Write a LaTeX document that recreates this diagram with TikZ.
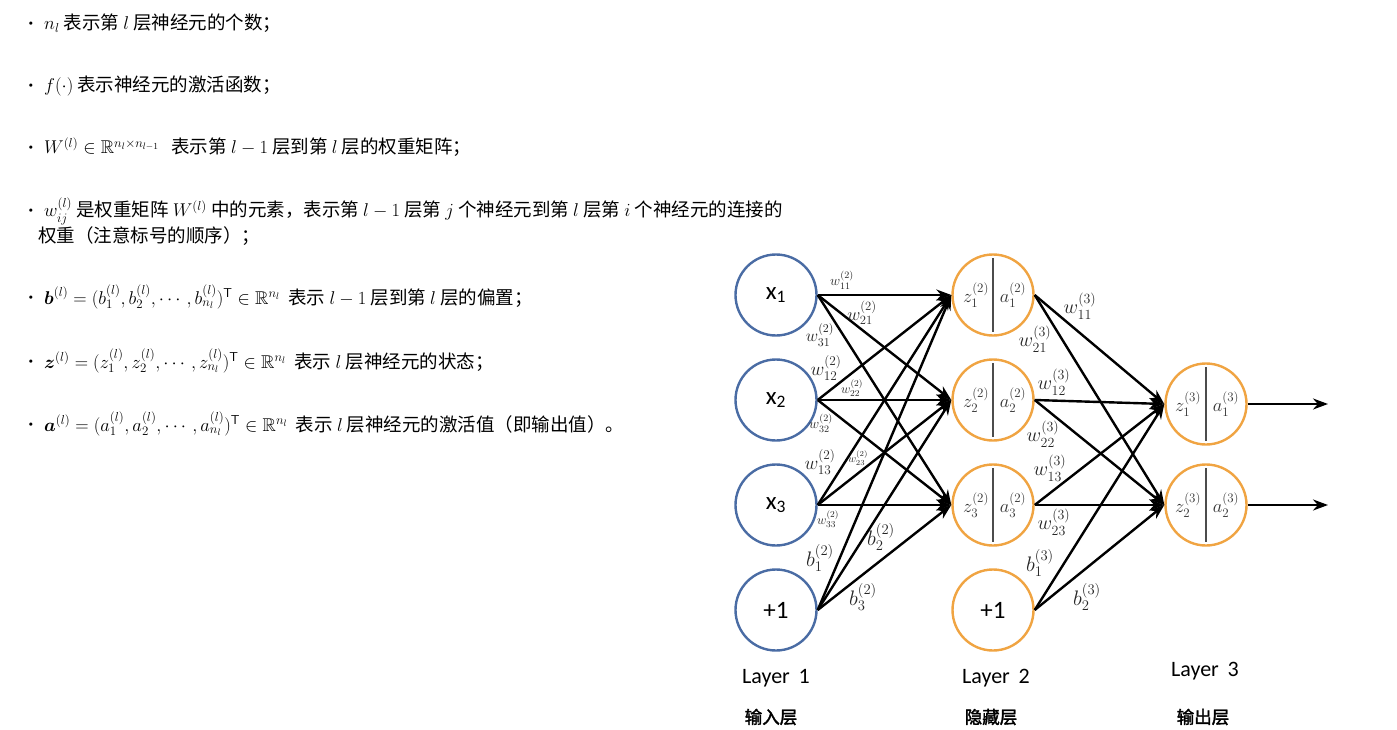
\RequirePackage{fix-cm}
\documentclass[tikz,border=0pt]{standalone}
\usepackage{amsmath}
\usepackage{amssymb}
\usepackage{fontspec}
\usetikzlibrary{arrows.meta,positioning}
\newfontfamily\cjk{Noto Sans CJK SC}
\newfontfamily\cjkb[FakeBold=2]{Noto Sans CJK SC}
\newfontfamily\calib{Carlito}
\definecolor{inblue}{RGB}{74,108,164}
\definecolor{hidorange}{RGB}{240,164,66}
\tikzset{
    inneu/.style={circle, draw=inblue, fill=white, line width=2.4pt, minimum size=81pt, inner sep=0pt, font=\calib\fontsize{25}{25}\selectfont},
    hidneu/.style={circle, draw=hidorange, fill=white, line width=2.4pt, minimum size=81pt, inner sep=0pt, font=\calib\fontsize{25}{25}\selectfont},
    divline/.style={line width=1.6pt, draw=black!70},
    conn/.style={line width=2.4pt, -{Stealth[length=15pt,width=11pt]}},
    inlab/.style={inner sep=0pt, text=black!80, font=\fontsize{18.5}{18.5}\selectfont},
    wl/.style={inner sep=0pt, text=black!85, font=\fontsize{#1}{#1}\selectfont},
    txt/.style={anchor=base west, inner sep=0pt, font=\cjk\fontsize{18.5}{22}\selectfont},
    dotmark/.style={inner sep=0pt, font=\fontsize{12}{12}\selectfont},
    laylab/.style={inner sep=0pt, font=\calib\fontsize{22}{22}\selectfont},
    laycn/.style={inner sep=0pt, font=\cjkb\fontsize{17.5}{17.5}\selectfont}
}

\begin{document}
\begin{tikzpicture}[x=1pt, y=-1pt]
    \useasboundingbox (0,0) rectangle (1397,730);

    \foreach \y [count=\k] in {24,86,148,211,298,362,425}
        \node[dotmark] (d\k) at (31,\y) {\textbullet};

    \node[txt] (r1) at (44,30) {$n_l$\ 表示第 $l$ 层神经元的个数；};
    \node[txt] (r2) at (44,92) {$f(\cdot)$\ 表示神经元的激活函数；};
    \node[txt] (r3) at (44,154) {$W^{(l)}\in\mathbb{R}^{n_l\times n_{l-1}}$\ \ \ 表示第\ $l-1$\ 层到第\ $l$\ 层的权重矩阵；};
    \node[txt] (r4) at (44,217) {$w^{(l)}_{ij}$\ 是权重矩阵 $W^{(l)}$ 中的元素，表示第\ $l-1$\ 层第 $j$ 个神经元到第 $l$ 层第 $i$ 个神经元的连接的};
    \node[txt] (r4b) at (38,242) {权重（注意标号的顺序）；};
    \node[txt] (r5) at (44,304) {$\boldsymbol{b}^{(l)}=(b^{(l)}_1,b^{(l)}_2,\cdots,b^{(l)}_{n_l})^{\mathsf{T}}\in\mathbb{R}^{n_l}$\ \ 表示 $l-1$ 层到第 $l$ 层的偏置；};
    \node[txt] (r6) at (44,368) {$\boldsymbol{z}^{(l)}=(z^{(l)}_1,z^{(l)}_2,\cdots,z^{(l)}_{n_l})^{\mathsf{T}}\in\mathbb{R}^{n_l}$\ \ 表示 $l$ 层神经元的状态；};
    \node[txt] (r7) at (44,431) {$\boldsymbol{a}^{(l)}=(a^{(l)}_1,a^{(l)}_2,\cdots,a^{(l)}_{n_l})^{\mathsf{T}}\in\mathbb{R}^{n_l}$\ \ 表示 $l$ 层神经元的激活值（即输出值）。};

    \node[inneu] (i1) at (776,295) {x\textsubscript{1}};
    \node[inneu] (i2) at (776,400) {x\textsubscript{2}};
    \node[inneu] (i3) at (776,505) {x\textsubscript{3}};
    \node[inneu] (ib) at (776,610) {+1};

    \node[hidneu] (h1) at (993,295) {};
    \node[hidneu] (h2) at (993,400) {};
    \node[hidneu] (h3) at (993,505) {};
    \node[hidneu] (hb) at (993,610) {+1};

    \node[hidneu] (o1) at (1206,404) {};
    \node[hidneu] (o2) at (1206,505) {};

    \foreach \i in {1,2,3} {
        \draw[divline] ([yshift=37pt]h\i.center) -- ([yshift=-37pt]h\i.center);
        \node[inlab] (hz\i) at ([xshift=-17pt]h\i.center) {$z^{(2)}_{\i}$};
        \node[inlab] (ha\i) at ([xshift=20pt]h\i.center) {$a^{(2)}_{\i}$};
    }
    \foreach \i in {1,2} {
        \draw[divline] ([yshift=37pt]o\i.center) -- ([yshift=-37pt]o\i.center);
        \node[inlab] (oz\i) at ([xshift=-18pt]o\i.center) {$z^{(3)}_{\i}$};
        \node[inlab] (oa\i) at ([xshift=20pt]o\i.center) {$a^{(3)}_{\i}$};
    }

    \foreach \s in {i1,i2,i3,ib}
        \foreach \t in {h1,h2,h3}
            \draw[conn] (\s.east) -- (\t.west);
    \foreach \s in {h1,h2,h3,hb}
        \foreach \t in {o1,o2}
            \draw[conn] (\s.east) -- (\t.west);

    \coordinate (out1) at (1328,404);
    \coordinate (out2) at (1328,505);
    \draw[conn] (o1.east) -- (out1);
    \draw[conn] (o2.east) -- (out2);

    \node[wl=14] (wa11) at (842,280) {$w^{(2)}_{11}$};
    \node[wl=18] (wa21) at (862,313) {$w^{(2)}_{21}$};
    \node[wl=17] (wa31) at (820,335) {$w^{(2)}_{31}$};
    \node[wl=19] (wa12) at (826,368) {$w^{(2)}_{12}$};
    \node[wl=13] (wa22) at (852,388) {$w^{(2)}_{22}$};
    \node[wl=14] (wa32) at (821,423) {$w^{(2)}_{32}$};
    \node[wl=19] (wa13) at (820,462) {$w^{(2)}_{13}$};
    \node[wl=11] (wa23) at (858,458) {$w^{(2)}_{23}$};
    \node[wl=13] (wa33) at (828,519) {$w^{(2)}_{33}$};
    \node[wl=21] (ba1) at (820,558) {$b^{(2)}_1$};
    \node[wl=21] (ba2) at (881,537) {$b^{(2)}_2$};
    \node[wl=21] (ba3) at (863,597) {$b^{(2)}_3$};

    \node[wl=20] (wb11) at (1080,306) {$w^{(3)}_{11}$};
    \node[wl=20] (wb21) at (1035,339) {$w^{(3)}_{21}$};
    \node[wl=20] (wb12) at (1054,382) {$w^{(3)}_{12}$};
    \node[wl=20] (wb22) at (1043,434) {$w^{(3)}_{22}$};
    \node[wl=20] (wb13) at (1050,468) {$w^{(3)}_{13}$};
    \node[wl=20] (wb23) at (1054,522) {$w^{(3)}_{23}$};
    \node[wl=21] (bb1) at (1040,563) {$b^{(3)}_1$};
    \node[wl=21] (bb2) at (1087,597) {$b^{(3)}_2$};

    \node[laylab] (l1) at (776,678) {Layer\hspace{0.4em}1};
    \node[laylab] (l2) at (996,678) {Layer\hspace{0.4em}2};
    \node[laylab] (l3) at (1205,671) {Layer\hspace{0.4em}3};
    \node[laycn] (c1) at (771,717) {输入层};
    \node[laycn] (c2) at (991,717) {隐藏层};
    \node[laycn] (c3) at (1203,717) {输出层};
\end{tikzpicture}
\end{document}
